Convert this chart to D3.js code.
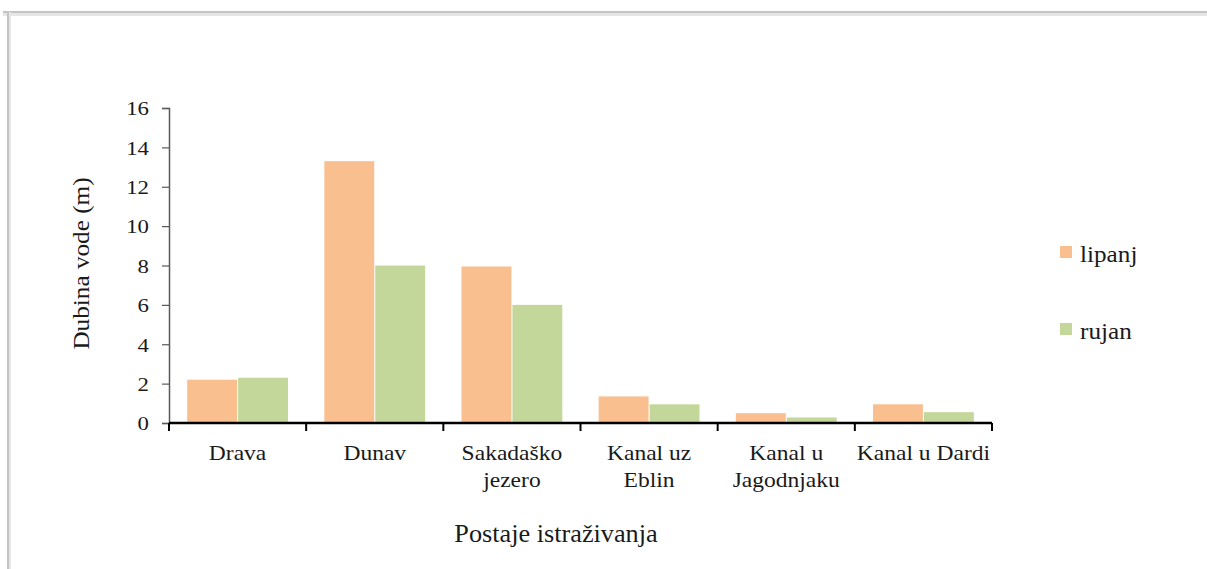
<!DOCTYPE html>
<html>
<head>
<meta charset="utf-8">
<script src="https://cdn.jsdelivr.net/npm/d3@7.9.0/dist/d3.min.js"></script>
<style>
  body { margin: 0; background: #fff; }
</style>
</head>
<body>
<div id="viz"></div>
<script>
// data
const stations = ["Drava", "Dunav", "Sakadaško jezero", "Kanal uz Eblin", "Kanal u Jagodnjaku", "Kanal u Dardi"];
const stationLines = [["Drava"], ["Dunav"], ["Sakadaško", "jezero"], ["Kanal uz", "Eblin"], ["Kanal u", "Jagodnjaku"], ["Kanal u Dardi"]];
const months = ["lipanj", "rujan"];
const lipanj = [2.2, 13.3, 7.95, 1.35, 0.5, 0.95];
const rujan = [2.3, 8.0, 6.0, 0.95, 0.28, 0.55];
const yTicks = [0, 2, 4, 6, 8, 10, 12, 14, 16];

const FONT = "'Liberation Serif', 'Times New Roman', serif";
const width = 1207, height = 569;
const margin = { top: 108, right: 215, bottom: 146, left: 169 };
const innerWidth = width - margin.left - margin.right;   // ~823
const innerHeight = height - margin.top - margin.bottom; // ~315

const svg = d3.select("#viz").append("svg")
  .attr("width", width)
  .attr("height", height);

// frame with soft shadow like the screenshot
svg.append("rect").attr("x", 3).attr("y", 11).attr("width", width).attr("height", 5).attr("fill", "#e6e6e6");
svg.append("rect").attr("x", 3).attr("y", 11).attr("width", width).attr("height", 2).attr("fill", "#c4c4c4");
svg.append("rect").attr("x", 7).attr("y", 12).attr("width", 4).attr("height", height).attr("fill", "#e6e6e6");
svg.append("rect").attr("x", 7).attr("y", 12).attr("width", 2).attr("height", height).attr("fill", "#c4c4c4");

const chart = svg.append("g")
  .attr("transform", `translate(${margin.left},${margin.top})`);

const rows = stations.map((s, i) => ({ name: s, lines: stationLines[i], lipanj: lipanj[i], rujan: rujan[i] }));

const x0 = d3.scaleBand()
  .domain(stations)
  .range([0, innerWidth])
  .paddingInner(0.25)
  .paddingOuter(0.125);

const step = x0.step();

const x1 = d3.scaleBand()
  .domain(months)
  .range([0, x0.bandwidth()])
  .padding(0.02);

const y = d3.scaleLinear()
  .domain([0, 16])
  .range([innerHeight, 0]);

const color = d3.scaleOrdinal()
  .domain(months)
  .range(["#f9bf8f", "#c4d79b"]);

// bars
chart.append("g")
  .selectAll("g")
  .data(rows)
  .join("g")
  .attr("transform", d => `translate(${x0(d.name)},0)`)
  .selectAll("rect")
  .data(d => months.map(key => ({ key, value: d[key] })))
  .join("rect")
  .attr("x", d => x1(d.key))
  .attr("y", d => y(d.value))
  .attr("width", x1.bandwidth())
  .attr("height", d => innerHeight - y(d.value))
  .attr("fill", d => color(d.key));

// y axis
const yAxis = chart.append("g")
  .call(d3.axisLeft(y).tickValues(yTicks).tickSize(7).tickPadding(13).tickFormat(d3.format("d")));
yAxis.select(".domain").attr("stroke", "#595959").attr("stroke-width", 1.5);
yAxis.selectAll(".tick line").attr("stroke", "#595959").attr("stroke-width", 1.2);
yAxis.selectAll("text")
  .attr("class", "stretch")
  .attr("data-s", 1.2)
  .attr("dy", "0.36em")
  .style("font-family", FONT)
  .style("font-size", "19px")
  .attr("fill", "#1a1a1a");

// x axis: ticks at category boundaries
const xAxis = chart.append("g").attr("transform", `translate(0,${innerHeight})`);
xAxis.append("line")
  .attr("x1", 0).attr("x2", innerWidth)
  .attr("stroke", "#000").attr("stroke-width", 2.5);
xAxis.selectAll(".bound")
  .data(d3.range(stations.length + 1))
  .join("line")
  .attr("class", "bound")
  .attr("x1", i => i * step).attr("x2", i => i * step)
  .attr("y1", 0).attr("y2", 8)
  .attr("stroke", "#000").attr("stroke-width", 2);

const labels = xAxis.selectAll(".cat")
  .data(rows)
  .join("text")
  .attr("class", "cat")
  .attr("text-anchor", "middle")
  .style("font-family", FONT)
  .style("font-size", "21px")
  .attr("fill", "#1a1a1a")
  .attr("transform", d => `translate(${x0(d.name) + x0.bandwidth() / 2},0)`);
labels.selectAll("tspan")
  .data(d => d.lines)
  .join("tspan")
  .attr("class", "stretch")
  .attr("data-s", 1.12)
  .attr("x", 0)
  .attr("y", (d, i) => 37 + i * 27)
  .text(d => d);

// axis titles
svg.append("text")
  .attr("class", "stretch")
  .attr("data-s", 1.05)
  .attr("transform", `translate(89,${margin.top + innerHeight / 2 - 2}) rotate(-90)`)
  .attr("text-anchor", "middle")
  .style("font-family", FONT)
  .style("font-size", "24px")
  .attr("fill", "#1a1a1a")
  .text("Dubina vode (m)");

svg.append("text")
  .attr("class", "stretch")
  .attr("data-s", 1.05)
  .attr("x", 556)
  .attr("y", 542)
  .attr("text-anchor", "middle")
  .style("font-family", FONT)
  .style("font-size", "25px")
  .attr("fill", "#1a1a1a")
  .text("Postaje istraživanja");

// legend
const legend = svg.append("g").attr("transform", "translate(1060,246)");
months.forEach((key, i) => {
  const g = legend.append("g").attr("transform", `translate(0,${i * 77})`);
  g.append("rect")
    .attr("width", 12)
    .attr("height", 12)
    .attr("fill", color(key));
  g.append("text")
    .attr("class", "stretch")
    .attr("data-s", 1.05)
    .attr("x", 20)
    .attr("y", 16)
    .style("font-family", FONT)
    .style("font-size", "24px")
    .attr("fill", "#1a1a1a")
    .text(key);
});

// the reference text is a bit wider than Liberation Serif, stretch it horizontally
svg.selectAll(".stretch").each(function () {
  const s = +this.getAttribute("data-s");
  const w = this.getComputedTextLength();
  d3.select(this).attr("textLength", w * s).attr("lengthAdjust", "spacingAndGlyphs");
});
</script>
</body>
</html>
